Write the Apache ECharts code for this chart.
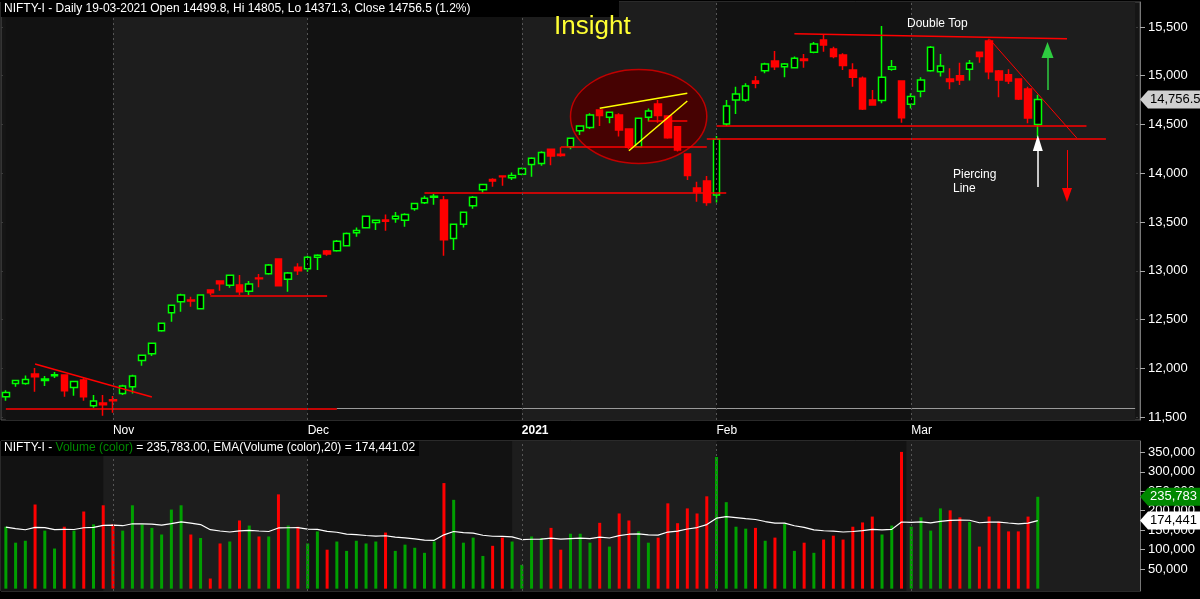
<!DOCTYPE html>
<html><head><meta charset="utf-8">
<script src="https://cdn.jsdelivr.net/npm/echarts@6/dist/echarts.min.js"></script>
<style>html,body{margin:0;padding:0;background:#000}#c{width:1200px;height:599px}</style>
</head><body><div id="c"></div>
<script>
const opens=[11709,11845,11845,11941,11876,11924,11931,11804,11880,11616,11644,11678,11743,11811,12081,12150,12386,12570,12683,12700,12611,12803,12895,12851,12854,12789,12926,12970,13121,12912,13035,13022,13138,13203,13206,13257,13390,13442,13496,13520,13534,13517,13637,13698,13753,13725,13332,13476,13667,13831,13937,13972,13955,13989,14091,14101,14246,14194,14273,14437,14468,14649,14574,14598,14454,14273,14574,14711,14588,14478,14198,13849,13921,13777,14505,14751,14751,14947,15052,15151,15093,15083,15172,15240,15367,15275,15213,15059,14974,14751,14745,15066,14947,14707,14840,15052,15042,14967,15001,15066,15240,15357,15049,15011,14967,14864,14499.8];
const closes=[11753,11876,11886,11914,11890,11934,11770,11866,11709,11664,11627,11668,11818,11921,12133,12256,12461,12646,12751,12690,12751,12775,12868,12953,12786,12864,12919,13059,12847,12977,13001,13138,13158,13172,13302,13383,13414,13558,13517,13507,13558,13578,13691,13743,13763,13319,13476,13599,13753,13886,13920,13965,13978,14050,14153,14214,14177,14181,14359,14485,14598,14591,14625,14444,14266,14564,14639,14591,14365,14239,13976,13808,13699,14348,14690,14813,14895,14922,15121,15093,15121,15179,15155,15326,15316,15196,15104,14984,14659,14700,14984,15093,14570,14786,14957,15292,15100,14940,14957,15128,15196,15042,14957,14946,14762,14567,14756.5];
const highs=[11774,11880,11927,12003,11921,11962,11935,11870,11897,11726,11726,11716,11832,11934,12140,12262,12465,12650,12765,12734,12755,12806,12900,12960,12957,12895,12967,13069,13125,12987,13076,13155,13170,13213,13315,13392,13445,13565,13527,13578,13602,13589,13696,13770,13787,13766,13480,13609,13766,13893,13948,13975,14009,14058,14163,14225,14250,14266,14365,14490,14615,14655,14630,14615,14460,14570,14663,14752,14590,14480,14200,13914,13972,14382,14751,14888,14922,14998,15134,15254,15130,15196,15223,15346,15418,15298,15230,15128,14991,14854,15510,15162,14947,14820,14984,15305,15223,15076,15134,15162,15240,15374,15059,15066,14967,14888,14805];
const lows=[11668,11811,11832,11760,11818,11900,11709,11719,11668,11596,11514,11545,11726,11743,12027,12125,12376,12478,12580,12632,12605,12751,12796,12827,12751,12751,12830,12960,12847,12786,12957,12991,13008,13155,13195,13250,13350,13435,13418,13411,13493,13452,13616,13684,13678,13154,13213,13445,13637,13800,13862,13872,13931,13980,13965,14077,14082,14170,14246,14393,14455,14485,14512,14376,14246,14266,14530,14519,14355,14222,13931,13709,13668,13699,14485,14608,14734,14871,15025,15059,14984,15076,15083,15230,15247,15179,15059,14888,14649,14700,14717,15052,14519,14663,14779,15042,14991,14861,14905,14950,15134,14963,14779,14916,14751,14512,14371.3];
const volumes=[159000,118000,123000,216000,149000,103000,159000,149000,198000,165000,214000,166000,149000,214000,165000,156000,139000,203000,214000,139000,130000,26000,116000,121000,175000,162000,134000,134000,242000,162000,159000,116000,147000,100000,121000,97000,123000,116000,121000,144000,97000,113000,105000,92000,121000,271000,228000,118000,131000,84000,110000,131000,121000,61000,134000,130000,156000,100000,141000,141000,118000,169000,108000,193000,175000,147000,118000,131000,219000,168000,206000,193000,237000,338000,222000,159000,154000,156000,123000,131000,167000,97000,118000,92000,126000,136000,126000,159000,170000,185000,139000,162000,351000,159000,183000,149000,206000,201000,183000,171000,108000,185000,172000,147000,147000,185000,235783];
const monthIdx=[11,31,53,73,93];
const monthLabels=['Nov','Dec','2021','Feb','Mar'];
const priceTicks=[11500,12000,12500,13000,13500,14000,14500,15000,15500];
const volTicks=[50000,100000,150000,200000,250000,300000,350000];
const nCat=117;
const cats=[];for(let i=0;i<nCat;i++)cats.push(String(i));
const ohlc=opens.map((o,i)=>[o,closes[i],lows[i],highs[i]]);
const GREEN='#00ff00',RED='#ff0000';
const volData=volumes.map((v,i)=>({value:v,itemStyle:{color:closes[i]>=opens[i]?'#00a000':RED}}));
const ema=[];let e=158000;volumes.forEach((v,i)=>{e=i===0?e:e+2/21*(v-e);ema.push(Math.round(e));});
const fmt=n=>n.toLocaleString('en-US');
const FONT='Liberation Sans';
const labelMap={};monthIdx.forEach((m,k)=>labelMap[m]=monthLabels[k]);
const bounds=[0].concat(monthIdx,[nCat-1]);
const shades=[];for(let k=0;k<bounds.length-1;k++){shades.push([{xAxis:bounds[k],itemStyle:{color:k%2?'#1d1d1d':'#121212'}},{xAxis:bounds[k+1]}]);}
const vLines=monthIdx.map(m=>({xAxis:m}));
function seg(x1,y1,x2,y2,c,w,t){return [{coord:[x1,y1],lineStyle:{color:c,width:w||1,type:t||'solid'}},{coord:[x2,y2]}];}
const annot=[
 seg(3,12044,14.8,11705,RED,1.5),
 seg(0,11590,33.5,11590,RED,1.5),
 seg(33.5,11590,116,11590,'#9a9a9a',1),
 seg(20.8,12745,32.8,12745,RED,1.5),
 seg(43,13800,74,13800,RED,1.5),
 seg(56.8,14268,71.7,14268,RED,1.5),
 seg(73,14485,110.7,14485,RED,1.5),
 seg(71.6,14350,113,14350,RED,1.5),
 seg(65.8,14540,69.8,14540,RED,1.5),
 seg(81,15430,109,15380,RED,1.5),
 seg(100.9,15380,109.5,14362,RED,1),
 seg(60.8,14666,69.8,14820,'#ffff00',1.5),
 seg(63.9,14231,69.8,14741,'#ffff00',1.5)
];
const arrows=[
 [{coord:[107,14854],lineStyle:{color:'#2ecc40',width:1.5,type:'solid'},symbol:'none'},{coord:[107,15264],symbol:'triangle',symbolSize:[12,16]}],
 [{coord:[108.9,14238],lineStyle:{color:RED,width:1,type:'solid'},symbol:'none'},{coord:[108.9,13777],symbol:'triangle',symbolSize:[10,14]}],
 [{coord:[105.8,13859],lineStyle:{color:'#ffffff',width:1.5,type:'solid'},symbol:'none'},{coord:[105.8,14310],symbol:'triangle',symbolSize:[10,16]}]
];
const chart=echarts.init(document.getElementById('c'),null,{renderer:'canvas'});
const axisLbl={color:'#ffffff',fontFamily:FONT,fontSize:13,align:'left',margin:8};
chart.setOption({
 backgroundColor:'#000000',animation:false,
 grid:[{left:1,right:60,top:2,height:418,show:true,borderColor:'#555',backgroundColor:'#151515'},{left:1,right:60,top:441,bottom:8,show:true,borderColor:'#555',backgroundColor:'#151515'}],
 xAxis:[
  {type:'category',gridIndex:0,data:cats,boundaryGap:true,axisLine:{show:false},axisTick:{show:false},splitLine:{show:false},
   axisLabel:{interval:0,color:'#ffffff',fontFamily:FONT,fontSize:12,align:'left',margin:5,
    formatter:(v)=>{const s=labelMap[+v]||'';return s==='2021'?'{b|2021}':s;},rich:{b:{fontWeight:'bold',color:'#ffffff',fontFamily:FONT,fontSize:12}}}},
  {type:'category',gridIndex:1,data:cats,boundaryGap:true,axisLine:{show:false},axisTick:{show:false},axisLabel:{show:false},splitLine:{show:false}}
 ],
 yAxis:[
  {type:'value',gridIndex:0,position:'right',min:11470,max:15756,axisLine:{show:true,lineStyle:{color:'#777'}},
   axisTick:{show:true,customValues:priceTicks,lineStyle:{color:'#aaa'}},
   axisLabel:Object.assign({},axisLbl,{customValues:priceTicks,formatter:v=>fmt(v)}),
   splitLine:{show:true,lineStyle:{color:'#3c3c3c',type:[2,3]}}},
  {type:'value',gridIndex:1,position:'right',min:-6000,max:379000,axisLine:{show:true,lineStyle:{color:'#777'}},
   axisTick:{show:true,customValues:volTicks,lineStyle:{color:'#aaa'}},
   axisLabel:Object.assign({},axisLbl,{customValues:volTicks,formatter:v=>fmt(v)}),
   splitLine:{show:true,lineStyle:{color:'#3c3c3c',type:[2,3]}}}
 ],
 series:[
  {type:'candlestick',xAxisIndex:0,yAxisIndex:0,data:ohlc,barWidth:7,z:5,
   itemStyle:{color:'#000000',color0:RED,borderColor:GREEN,borderColor0:RED,borderWidth:1.5},
   markArea:{silent:true,z:0,data:shades},
   markLine:{silent:true,symbol:'none',label:{show:false},z:6,data:annot.concat(
     vLines.map(v=>Object.assign({},v,{lineStyle:{color:'#555',type:[2,3],width:1}})))}
  },
  {type:'line',xAxisIndex:0,yAxisIndex:0,data:[],markLine:{silent:true,label:{show:false},z:7,data:arrows}},
  {type:'bar',xAxisIndex:1,yAxisIndex:1,data:volData,barWidth:3,z:3,
   markArea:{silent:true,z:0,data:shades},
   markLine:{silent:true,symbol:'none',label:{show:false},data:vLines.map(v=>Object.assign({},v,{lineStyle:{color:'#555',type:[2,3],width:1}}))}},
  {type:'line',xAxisIndex:1,yAxisIndex:1,data:ema,symbol:'none',lineStyle:{color:'#ffffff',width:1.2},z:4}
 ]
});
const c0=chart.convertToPixel({gridIndex:0},[65.3,14582]);
const cx1=chart.convertToPixel({gridIndex:0},[71.7,14582]);
const cy1=chart.convertToPixel({gridIndex:0},[65.3,15064]);
const pTag=chart.convertToPixel({gridIndex:0},[0,14756.5])[1];
const vTag=chart.convertToPixel({gridIndex:1},[0,235783])[1];
const eTag=chart.convertToPixel({gridIndex:1},[0,ema[ema.length-1]])[1];
function tag(y,txt,bg,fg){return [
 {type:'polygon',z:50,shape:{points:[[1140,y],[1148,y-9],[1200,y-9],[1200,y+9],[1148,y+9]]},style:{fill:bg}},
 {type:'text',z:51,x:1150,y:y,style:{text:txt,fill:fg,font:'13px "'+FONT+'"',verticalAlign:'middle'}}];}
chart.setOption({graphic:[
 {type:'ellipse',z:1,silent:true,shape:{cx:c0[0],cy:c0[1],rx:cx1[0]-c0[0],ry:c0[1]-cy1[1]},style:{fill:'rgba(75,0,0,0.9)',stroke:'#c00000',lineWidth:1.5}},
 {type:'rect',z:40,shape:{x:1,y:1,width:618,height:16},style:{fill:'#000'}},
 {type:'text',z:41,x:4,y:3,style:{text:'NIFTY-I - Daily 19-03-2021 Open 14499.8, Hi 14805, Lo 14371.3, Close 14756.5 (1.2%)',fill:'#ffffff',font:'12px "'+FONT+'"'}},
 {type:'text',z:41,x:554,y:14,style:{text:'Insight',fill:'#ffff33',font:'26px "'+FONT+'"'}},
 {type:'text',z:41,x:907,y:18,style:{text:'Double Top',fill:'#ffffff',font:'12px "'+FONT+'"'}},
 {type:'text',z:41,x:953,y:168,style:{text:'Piercing\nLine',fill:'#ffffff',font:'12px "'+FONT+'"',lineHeight:14}},
 {type:'rect',z:40,shape:{x:1,y:441,width:418,height:15},style:{fill:'#000'}},
 {type:'text',z:41,x:4,y:442,style:{text:'{w|NIFTY-I - }{g|Volume (color)}{w| = 235,783.00, EMA(Volume (color),20) = 174,441.02}',font:'12px "'+FONT+'"',
   rich:{w:{fill:'#ffffff',font:'12px "'+FONT+'"'},g:{fill:'#008800',font:'12px "'+FONT+'"'}}}},
 ...tag(pTag,'14,756.5','#cfcfcf','#000'),
 ...tag(vTag,'235,783','#008800','#fff'),
 ...tag(eTag,'174,441','#ffffff','#000')
]});
</script></body></html>
